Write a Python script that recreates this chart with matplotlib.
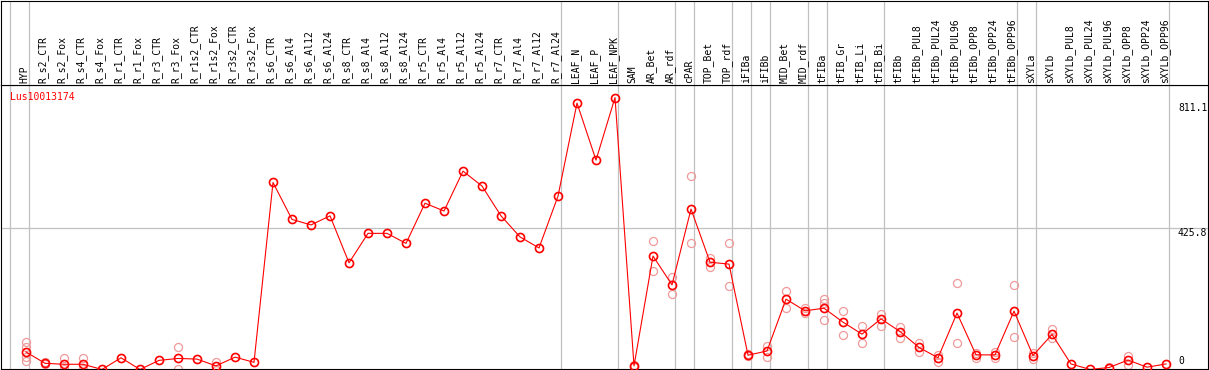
import matplotlib
matplotlib.use("Agg")
import matplotlib.pyplot as plt
import matplotlib.transforms as mtransforms

# Data
gene = "Lus10013174"
samples = ["HYP", "R_s2_CTR", "R_s2_Fox", "R_s4_CTR", "R_s4_Fox", "R_r1_CTR", "R_r1_Fox",
           "R_r3_CTR", "R_r3_Fox", "R_r1s2_CTR", "R_r1s2_Fox", "R_r3s2_CTR", "R_r3s2_Fox",
           "R_s6_CTR", "R_s6_Al4", "R_s6_Al12", "R_s6_Al24", "R_s8_CTR", "R_s8_Al4",
           "R_s8_Al12", "R_s8_Al24", "R_r5_CTR", "R_r5_Al4", "R_r5_Al12", "R_r5_Al24",
           "R_r7_CTR", "R_r7_Al4", "R_r7_Al12", "R_r7_Al24", "LEAF_N", "LEAF_P", "LEAF_NPK",
           "SAM", "AR_Bet", "AR_rdf", "cPAR", "TOP_Bet", "TOP_rdf", "iFIBa", "iFIBb",
           "MID_Bet", "MID_rdf", "tFIBa", "tFIB_Gr", "tFIB_Li", "tFIB_Bi", "tFIBb",
           "tFIBb_PUL8", "tFIBb_PUL24", "tFIBb_PUL96", "tFIBb_OPP8", "tFIBb_OPP24",
           "tFIBb_OPP96", "sXYLa", "sXYLb", "sXYLb_PUL8", "sXYLb_PUL24", "sXYLb_PUL96",
           "sXYLb_OPP8", "sXYLb_OPP24", "sXYLb_OPP96"]

means = [44, 9, 6, 6, -10, 26, -10, 18, 24, 22, 1, 28, 12,
         567, 453, 436, 464, 319, 410, 410, 379, 503, 479, 602, 556,
         464, 399, 365, 525, 812, 636, 829,
         1, 340, 251, 485, 321, 315, 34, 47, 207, 171,
         179, 136, 99, 146, 107, 58, 26, 164, 35, 35, 170,
         33, 98, 7, -10, -4, 19, -3, 7]

replicates = [[75, 60, 29, 16], [12, 6], [24, -10], [24, -10], [], [], [], [], [58, -10], [],
              [14, -12], [], [], [], [], [], [], [], [], [], [], [], [], [], [], [], [], [],
              [], [], [], [], [3, -2], [386, 293], [276, 223], [586, 380], [335, 307],
              [380, 247], [37, 30], [63, 27], [232, 181], [179, 163], [207, 194, 143],
              [170, 95], [123, 71], [161, 125], [122, 88], [72, 43], [34, 14], [257, 71],
              [42, 25], [44, 24], [250, 90], [40, 23], [114, 86], [], [], [-1], [32, 4],
              [], []]

# indices where a new group of samples starts (grey separators)
group_starts = [0, 1, 29, 32, 35, 36, 38, 39, 40, 42, 43, 46, 53, 54, 61]
ytick_values = [811.1, 425.8]

W, H = 1209, 370
fig = plt.figure(figsize=(W / 100, H / 100), dpi=100)
grey = "#c0c0c0"
font = "DejaVu Sans Mono"

ax = fig.add_axes([1 / W, 1 / H, 1207 / W, 284 / H])
hdr = fig.add_axes([1 / W, 285 / H, 1207 / W, 84.5 / H], sharex=ax)

x = list(range(len(samples)))
ax.set_xlim(-1.316, 62.21)
ax.set_ylim(-8.6, 867.8)

for a in (ax, hdr):
    a.set_xticks([])
    a.set_yticks([])
    for s in a.spines.values():
        s.set_linewidth(0.8)
        s.set_color("black")
    for g in group_starts:
        a.axvline(g - 0.842, color=grey, lw=0.9, zorder=0)

ax.axhline(425.8, color=grey, lw=0.9, zorder=0)

# replicate points
for i, reps in enumerate(replicates):
    ax.plot([i] * len(reps), reps, "o", mfc="none", mec="#f09a9a", ms=5.8, mew=0.9, zorder=2)

# mean line
ax.plot(x, means, "-", color="red", lw=0.8, zorder=3)
ax.plot(x, means, "o", mfc="none", mec="red", ms=5.8, mew=1.2, zorder=4)

ax.text(0.0075, 0.958, gene, transform=ax.transAxes, color="red", family=font,
        fontsize=7, va="center", ha="left")

# value labels on the right
trans = mtransforms.blended_transform_factory(ax.transData, ax.transData)
for v in ytick_values:
    ax.text(60.63, v, f"{v}", transform=trans, family=font, fontsize=7, va="top", ha="left")
ax.text(60.63, 0.012, "0", transform=mtransforms.blended_transform_factory(ax.transData, ax.transAxes),
        family=font, fontsize=7, va="bottom", ha="left")

# sample names in the header
htrans = mtransforms.blended_transform_factory(hdr.transData, hdr.transAxes)
for i, name in enumerate(samples):
    hdr.text(i - 0.1, 0.025, name, transform=htrans, rotation=90, family=font, fontsize=7,
             va="bottom", ha="center")

fig.savefig("out.png", dpi=100)
